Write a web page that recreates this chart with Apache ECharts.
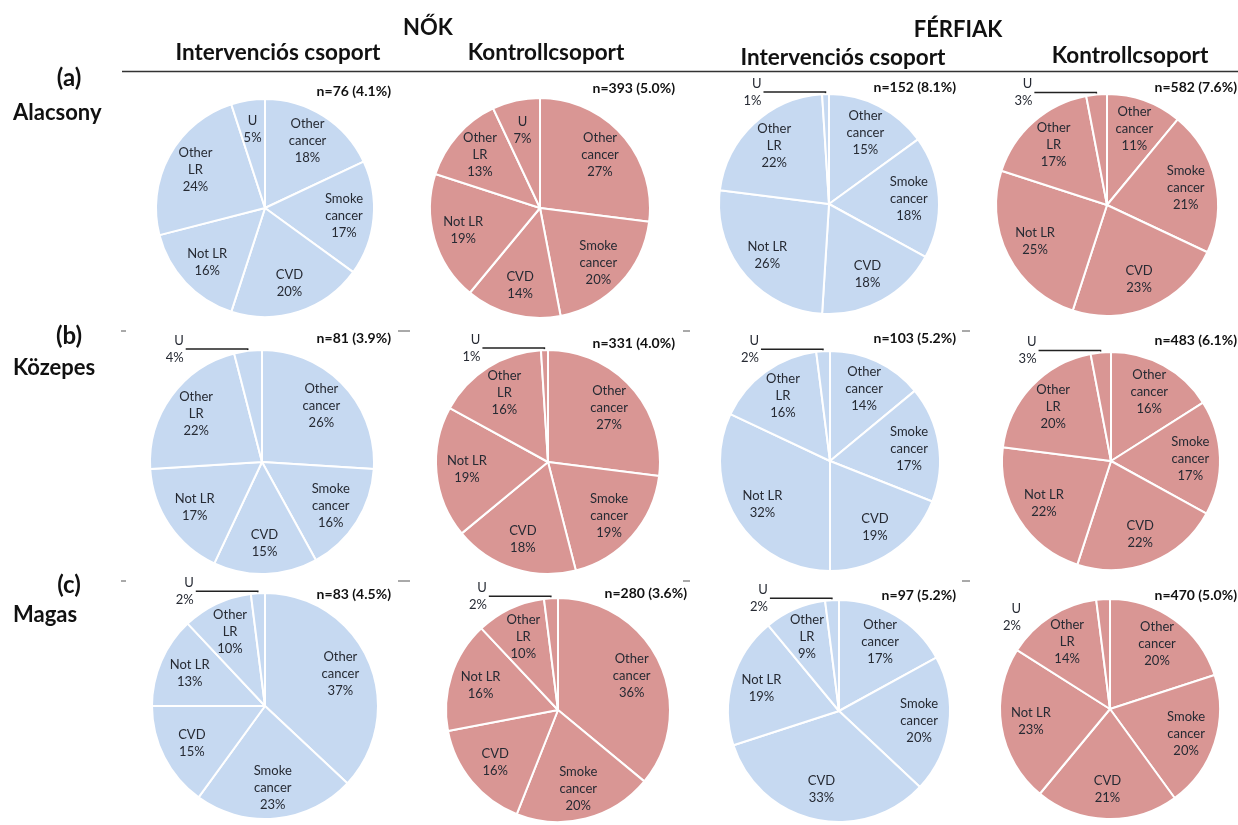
<!DOCTYPE html>
<html>
<head>
<meta charset="utf-8">
<title>Halálokok</title>
<script src="https://cdn.jsdelivr.net/npm/echarts@6/dist/echarts.min.js"></script>
<style>
  html, body { margin: 0; padding: 0; background: #fff; }
  #main { width: 1238px; height: 825px; }
</style>
</head>
<body>
<div id="main"></div>
<script>
// kategóriák, 12 órától az óramutató járásával
var categories = ['Other cancer', 'Smoke cancer', 'CVD', 'Not LR', 'Other LR', 'U'];
var catLabels = ['Other\ncancer', 'Smoke\ncancer', 'CVD', 'Not LR', 'Other\nLR', 'U'];

// (a) Alacsony
var nokIntA = [18, 17, 20, 16, 24, 5];
var nokKonA = [27, 20, 14, 19, 13, 7];
var ferIntA = [15, 18, 18, 26, 22, 1];
var ferKonA = [11, 21, 23, 25, 17, 3];
// (b) Közepes
var nokIntB = [26, 16, 15, 17, 22, 4];
var nokKonB = [27, 19, 18, 19, 16, 1];
var ferIntB = [14, 17, 19, 32, 16, 2];
var ferKonB = [16, 17, 22, 22, 20, 3];
// (c) Magas
var nokIntC = [37, 23, 15, 13, 10, 2];
var nokKonC = [36, 20, 16, 16, 10, 2];
var ferIntC = [17, 20, 33, 19, 9, 2];
var ferKonC = [20, 20, 21, 23, 14, 2];

var nLabels = [
  'n=76 (4.1%)', 'n=393 (5.0%)', 'n=152 (8.1%)', 'n=582 (7.6%)',
  'n=81 (3.9%)', 'n=331 (4.0%)', 'n=103 (5.2%)', 'n=483 (6.1%)',
  'n=83 (4.5%)', 'n=280 (3.6%)', 'n=97 (5.2%)', 'n=470 (5.0%)'
];
var sexTitles = ['NŐK', 'FÉRFIAK'];
var groupTitles = ['Intervenciós csoport', 'Kontrollcsoport', 'Intervenciós csoport', 'Kontrollcsoport'];
var rowTags = ['(a)', '(b)', '(c)'];
var rowNames = ['Alacsony', 'Közepes', 'Magas'];

var panels = [nokIntA, nokKonA, ferIntA, ferKonA,
              nokIntB, nokKonB, ferIntB, ferKonB,
              nokIntC, nokKonC, ferIntC, ferKonC];

// elrendezés
var centers = [[265, 208], [540, 208], [829, 204], [1107, 205],
               [262, 462], [548, 462], [830, 461], [1111, 461],
               [265, 706], [558, 710], [839, 711], [1110, 709]];
var radii = [109, 110, 110, 111, 112, 112, 110, 109, 113, 112, 111, 110];
var nPos = [[391, 91], [675, 88], [956, 87], [1237, 87],
            [391, 338], [675, 343], [956, 338], [1237, 340],
            [391, 594], [687, 593], [956, 595], [1237, 595]];
var uOutside = [false, false, true, true, true, true, true, true, true, true, true, true];
var uLine = [false, false, true, true, true, true, true, true, true, true, true, false];
var blue = '#c6d9f1', red = '#d99694', ink = '#262a33';
var FONT = 'Lato, "Open Sans", sans-serif';

var chart = echarts.init(document.getElementById('main'));

var series = panels.map(function (vals, i) {
  var col = i % 4;
  return {
    type: 'pie',
    center: centers[i],
    radius: radii[i],
    startAngle: 90,
    clockwise: true,
    animation: false,
    avoidLabelOverlap: false,
    silent: true,
    itemStyle: { color: col % 2 ? red : blue, borderColor: '#fff', borderWidth: 2 },
    label: {
      position: 'inside',
      color: ink,
      fontFamily: FONT,
      fontSize: 13,
      lineHeight: 17,
      formatter: function (p) { return catLabels[p.dataIndex] + '\n' + p.value + '%'; }
    },
    labelLine: { show: false },
    // belső feliratok kijjebb, ahogy az eredetin
    labelLayout: function (p) {
      var r = p.labelRect;
      if (p.dataIndex === 5 && uOutside[p.seriesIndex]) {
        // vonal nélküli U felirat lejjebb
        if (!uLine[p.seriesIndex]) return { y: r.y + r.height / 2 + 20 };
        return {};
      }
      var c = centers[p.seriesIndex];
      var lx = r.x + r.width / 2, ly = r.y + r.height / 2;
      return { x: c[0] + (lx - c[0]) * 1.38, y: c[1] + (ly - c[1]) * 1.38 };
    },
    data: vals.map(function (v, k) {
      var item = { name: categories[k], value: v };
      if (k === 5 && uOutside[i]) {
        item.label = { position: 'outside', distanceToLabelLine: 2, align: 'left', padding: [12, 0, 0, 0] };
        item.labelLine = {
          show: uLine[i], length: 2, length2: uLine[i] ? 62 : 80,
          lineStyle: { color: '#222', width: 1.5 }
        };
      }
      return item;
    })
  };
});

var graphic = [];
// fejlécek
graphic.push({ type: 'text', x: 428, y: 28, style: { text: sexTitles[0], font: 'bold 22px ' + FONT, fill: '#111', textAlign: 'center', textVerticalAlign: 'middle' } });
graphic.push({ type: 'text', x: 958, y: 30, style: { text: sexTitles[1], font: 'bold 22px ' + FONT, fill: '#111', textAlign: 'center', textVerticalAlign: 'middle' } });
var headX = [278, 546, 843, 1130], headY = [53, 53, 58, 56];
groupTitles.forEach(function (t, j) {
  graphic.push({ type: 'text', x: headX[j], y: headY[j], style: { text: t, font: 'bold 22.5px ' + FONT, fill: '#111', textAlign: 'center', textVerticalAlign: 'middle' } });
});
graphic.push({ type: 'line', shape: { x1: 122, y1: 71.5, x2: 1238, y2: 71.5 }, style: { stroke: '#333', lineWidth: 1.5 } });

// sorok
var tagY = [78, 336, 585], nameY = [113, 368, 615];
rowTags.forEach(function (t, j) {
  graphic.push({ type: 'text', x: 69, y: tagY[j], style: { text: t, font: 'bold 24px ' + FONT, fill: '#111', textAlign: 'center', textVerticalAlign: 'middle' } });
  graphic.push({ type: 'text', x: 13, y: nameY[j], style: { text: rowNames[j], font: 'bold 22px ' + FONT, fill: '#111', textAlign: 'left', textVerticalAlign: 'middle' } });
});

// n= feliratok
nLabels.forEach(function (t, i) {
  graphic.push({ type: 'text', x: nPos[i][0], y: nPos[i][1], style: { text: t, font: 'bold 14px ' + FONT, fill: '#111', textAlign: 'right', textVerticalAlign: 'middle' } });
});

// apró jelek a panelek sarkainál
[331, 581].forEach(function (y) {
  [[121, 126], [398, 410], [683, 690], [962, 970]].forEach(function (s) {
    graphic.push({ type: 'line', shape: { x1: s[0], y1: y, x2: s[1], y2: y }, style: { stroke: '#555', lineWidth: 1 } });
  });
});

chart.setOption({
  backgroundColor: '#fff',
  animation: false,
  series: series,
  graphic: graphic
});
</script>
</body>
</html>
